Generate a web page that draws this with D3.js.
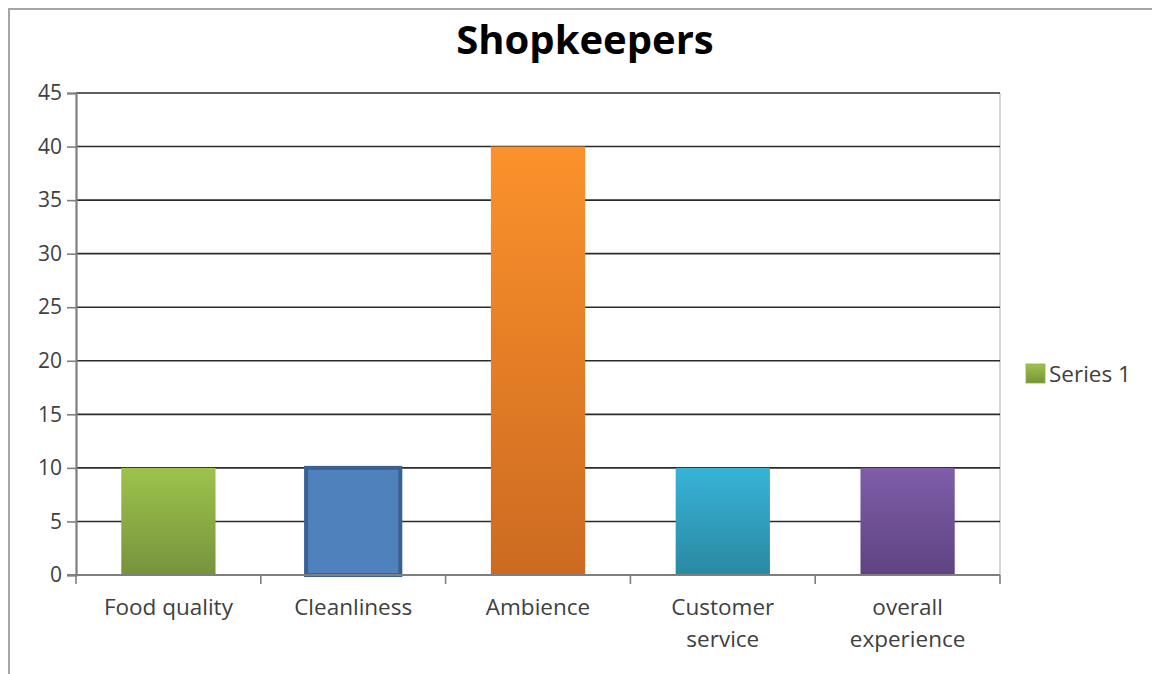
<!DOCTYPE html>
<html>
<head>
<meta charset="utf-8">
<script src="https://cdn.jsdelivr.net/npm/d3@7"></script>
<style>
  html, body { margin: 0; padding: 0; background: #fff; }
  svg { display: block; }
  text { font-family: "Open Sans", "DejaVu Sans", sans-serif; }
</style>
</head>
<body>
<svg id="chart" width="1152" height="674"></svg>
<script>
// Survey results for shopkeepers
const title = "Shopkeepers";
const categories = ["Food quality", "Cleanliness", "Ambience", "Customer service", "overall experience"];
const categoryLines = [["Food quality"], ["Cleanliness"], ["Ambience"], ["Customer", "service"], ["overall", "experience"]];
const values = [10, 10, 40, 10, 10];
const yTicks = [0, 5, 10, 15, 20, 25, 30, 35, 40, 45];
const seriesName = "Series 1";

// Fill for each bar: [top colour, bottom colour]
const barColors = [
  ["#9dc34c", "#76933b"],
  ["#4f81bd", "#4f81bd"],
  ["#fb922b", "#cc6a21"],
  ["#37b3d7", "#2a89a2"],
  ["#7f5da9", "#5e4382"]
];

const svg = d3.select("#chart");
const margin = { left: 76, right: 1000, top: 93, bottom: 575 };

const x = d3.scaleBand().domain(categories).range([margin.left, margin.right]).paddingInner(0.49).paddingOuter(0.245);
const y = d3.scaleLinear().domain([0, 45]).range([margin.bottom, margin.top]);

// gradients
const defs = svg.append("defs");
barColors.forEach((c, i) => {
  const g = defs.append("linearGradient").attr("id", "grad" + i)
    .attr("x1", 0).attr("y1", 0).attr("x2", 0).attr("y2", 1);
  g.append("stop").attr("offset", "0%").attr("stop-color", c[0]);
  g.append("stop").attr("offset", "100%").attr("stop-color", c[1]);
});

// outer frame
svg.append("path")
  .attr("d", "M9,674 L9,9 L1152,9")
  .attr("fill", "none").attr("stroke", "#a6a6a6").attr("stroke-width", 2);

// title
svg.append("text")
  .attr("x", 585).attr("y", 54)
  .attr("text-anchor", "middle")
  .attr("font-size", 40).attr("font-weight", "bold")
  .attr("fill", "#000")
  .text(title);

// right border of plot area
svg.append("line")
  .attr("x1", margin.right).attr("x2", margin.right)
  .attr("y1", margin.top).attr("y2", margin.bottom)
  .attr("stroke", "#c8c8c8").attr("stroke-width", 1.5);

// gridlines
svg.append("g").selectAll("line").data(yTicks.filter(d => d > 0)).join("line")
  .attr("x1", margin.left).attr("x2", margin.right)
  .attr("y1", d => y(d)).attr("y2", d => y(d))
  .attr("stroke", "#2b2b2b").attr("stroke-width", 1.6);

// bars
svg.append("g").selectAll("rect").data(values).join("rect")
  .attr("x", (d, i) => x(categories[i]))
  .attr("y", d => y(d))
  .attr("width", x.bandwidth())
  .attr("height", d => y(0) - y(d))
  .attr("fill", (d, i) => "url(#grad" + i + ")")
  .attr("stroke", (d, i) => i === 1 ? "#3a6191" : "none")
  .attr("stroke-width", (d, i) => i === 1 ? 4 : 0);

// y axis
const yAxis = svg.append("g")
  .attr("transform", `translate(${margin.left},0)`)
  .call(d3.axisLeft(y).tickValues(yTicks).tickSize(9).tickPadding(5));
yAxis.select(".domain").attr("stroke", "#7f7f7f").attr("stroke-width", 2.2);
yAxis.selectAll(".tick line").attr("stroke", "#7f7f7f").attr("stroke-width", 1.6);
yAxis.selectAll(".tick text")
  .attr("font-size", 21).attr("fill", "#404040")
  .attr("font-family", "'Open Sans', sans-serif");

// x axis
const xBounds = d3.range(categories.length + 1).map(i => margin.left + i * (margin.right - margin.left) / categories.length);
const xAxisG = svg.append("g");
xAxisG.append("line")
  .attr("x1", margin.left - 9).attr("x2", margin.right)
  .attr("y1", y(0)).attr("y2", y(0))
  .attr("stroke", "#7f7f7f").attr("stroke-width", 2);
xAxisG.selectAll(".xt").data(xBounds).join("line").attr("class", "xt")
  .attr("x1", d => d).attr("x2", d => d)
  .attr("y1", y(0)).attr("y2", y(0) + 9)
  .attr("stroke", "#7f7f7f").attr("stroke-width", 1.6);

// category labels
const labels = xAxisG.selectAll(".xl").data(categories).join("text").attr("class", "xl")
  .attr("text-anchor", "middle")
  .attr("font-size", 22.5).attr("fill", "#404040");
labels.each(function (d, i) {
  const t = d3.select(this);
  const cx = x(d) + x.bandwidth() / 2;
  categoryLines[i].forEach((line, j) => {
    t.append("tspan").attr("x", cx).attr("y", y(0) + 40 + j * 32).text(line);
  });
});

// legend
const legend = svg.append("g").attr("transform", "translate(1026,364)");
legend.append("rect")
  .attr("width", 19).attr("height", 19)
  .attr("fill", "url(#grad0)").attr("stroke", "#8db04a").attr("stroke-width", 0.8);
legend.append("text")
  .attr("x", 23).attr("y", 18)
  .attr("font-size", 22.5).attr("fill", "#404040")
  .text(seriesName);
</script>
</body>
</html>
